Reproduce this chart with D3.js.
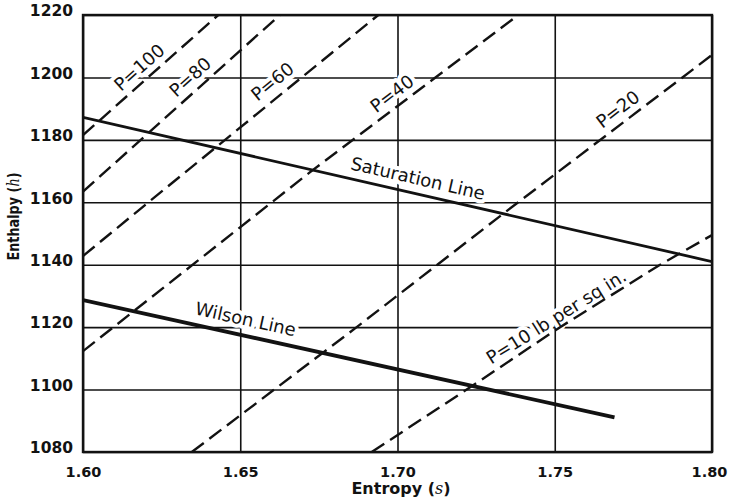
<!DOCTYPE html>
<html>
<head>
<meta charset="utf-8">
<script src="https://cdn.jsdelivr.net/npm/d3@7"></script>
<style>
  html, body { margin: 0; padding: 0; background: #fff; }
  svg { display: block; }
</style>
</head>
<body>
<svg id="chart" width="730" height="500"></svg>
<script>
// Mollier chart detail: enthalpy h (Btu/lb) against entropy s, with
// constant-pressure lines, the saturation line and the Wilson line.

const entropyTicks = [1.60, 1.65, 1.70, 1.75, 1.80];
const enthalpyTicks = [1080, 1100, 1120, 1140, 1160, 1180, 1200, 1220];

// Constant-pressure lines, points as [entropy, enthalpy]
const isobar100 = [[1.600, 1181.5], [1.643, 1220.0]];
const isobar80  = [[1.600, 1163.4], [1.6626, 1220.0]];
const isobar60  = [[1.600, 1142.8], [1.6208, 1160.0], [1.6939, 1220.0]];
const isobar40  = [[1.600, 1112.3], [1.672, 1169.5], [1.7384, 1220.0]];
const isobar20  = [[1.6346, 1080.0], [1.6865, 1119.6], [1.7342, 1156.8], [1.800, 1207.2]];
const isobar10  = [[1.6918, 1080.0], [1.722, 1100.0], [1.7517, 1120.0], [1.7835, 1140.0], [1.800, 1149.5]];

const isobarLabels = ["P=100", "P=80", "P=60", "P=40", "P=20", "P=10 lb per sq in."];

const saturationLine = [[1.600, 1187.2], [1.800, 1141.0]];
const wilsonLine = [[1.600, 1128.7], [1.769, 1091.1]];

const curveLabels = ["Saturation Line", "Wilson Line"];

// ---- layout ----
const plot = { left: 83, right: 712, top: 15, bottom: 452 };
const ink = "#121212";

const svg = d3.select("#chart");
const x = d3.scaleLinear().domain([1.60, 1.80]).range([plot.left, plot.right]);
const y = d3.scaleLinear().domain([1080, 1220]).range([plot.bottom, plot.top]);
const W = plot.right - plot.left, H = plot.bottom - plot.top;

svg.append("defs").append("clipPath").attr("id", "plot-clip")
  .append("rect").attr("x", plot.left).attr("y", plot.top).attr("width", W).attr("height", H);

// grid + y axis
const yAxis = svg.append("g")
  .attr("transform", `translate(${plot.left},0)`)
  .call(d3.axisLeft(y).tickValues(enthalpyTicks).tickSize(-W).tickPadding(10).tickFormat(d3.format("d")));
yAxis.select(".domain").remove();
yAxis.selectAll(".tick line").attr("stroke", ink).attr("stroke-width", 1.6);
yAxis.selectAll(".tick text")
  .attr("fill", ink).attr("font-family", "DejaVu Sans, sans-serif")
  .attr("font-weight", "bold").attr("font-size", 15.5).attr("dy", "0.05em");

// grid + x axis
const xAxis = svg.append("g")
  .attr("transform", `translate(0,${plot.bottom})`)
  .call(d3.axisBottom(x).tickValues(entropyTicks).tickSize(-H).tickPadding(10).tickFormat(d3.format(".2f")));
xAxis.select(".domain").remove();
xAxis.selectAll(".tick line").attr("stroke", ink).attr("stroke-width", 1.6);
xAxis.selectAll(".tick text")
  .attr("fill", ink).attr("font-family", "DejaVu Sans, sans-serif")
  .attr("font-weight", "bold").attr("font-size", 14.5).attr("dy", "1.0em")
  .attr("dx", d => d === 1.80 ? -3 : 0);

// axis titles
const xTitle = svg.append("text")
  .attr("x", 401).attr("y", 494).attr("text-anchor", "middle")
  .attr("fill", ink).attr("font-family", "DejaVu Sans, sans-serif")
  .attr("font-weight", "bold").attr("font-size", 16);
xTitle.append("tspan").text("Entropy (");
xTitle.append("tspan").attr("font-family", "DejaVu Serif, serif").attr("font-style", "italic").attr("font-weight", "normal").text("s");
xTitle.append("tspan").text(")");

const yTitle = svg.append("text")
  .attr("transform", "translate(19,216.5) rotate(-90)")
  .attr("text-anchor", "middle")
  .attr("fill", ink).attr("font-family", "DejaVu Sans, sans-serif")
  .attr("font-weight", "bold").attr("font-size", 16)
  .attr("textLength", 88).attr("lengthAdjust", "spacingAndGlyphs");
yTitle.append("tspan").text("Enthalpy (");
yTitle.append("tspan").attr("font-family", "DejaVu Serif, serif").attr("font-style", "italic").attr("font-weight", "normal").text("h");
yTitle.append("tspan").text(")");

// ---- helpers for labels laid along a line ----
function pointOn(line, s) {
  for (let i = 0; i < line.length - 1; i++) {
    const [s0, h0] = line[i], [s1, h1] = line[i + 1];
    if (s >= s0 && s <= s1 || i === line.length - 2) {
      const t = (s - s0) / (s1 - s0);
      const px0 = x(s0), py0 = y(h0), px1 = x(s1), py1 = y(h1);
      const dx = px1 - px0, dy = py1 - py0, len = Math.hypot(dx, dy);
      return { px: px0 + t * dx, py: py0 + t * dy, ux: dx / len, uy: dy / len };
    }
  }
}

const isobars = [isobar100, isobar80, isobar60, isobar40, isobar20, isobar10];
// label anchor (entropy along the line) and perpendicular offset in px
const isobarLabelLayout = [
  { s: 1.6207, off: 13.5 },
  { s: 1.6370, off: 14.0 },
  { s: 1.6633, off: 15.5 },
  { s: 1.7008, off: 13.5 },
  { s: 1.7727, off: 14.0 },
  { s: 1.7523, off: 11.0 }
];
const curves = [saturationLine, wilsonLine];
const curveLabelLayout = [
  { s: 1.7054, off: 15.5 },
  { s: 1.6506, off: 16.5 }
];

const labelLayer = svg.append("g")
  .attr("font-family", "DejaVu Sans, sans-serif").attr("font-size", 18).attr("fill", ink);

function placeLabel(line, text, lay) {
  const p = pointOn(line, lay.s);
  // normal pointing to the upper side of the line
  let nx = p.uy, ny = -p.ux;
  if (ny > 0) { nx = -nx; ny = -ny; }
  const cx = p.px + nx * lay.off, cy = p.py + ny * lay.off;
  const ang = Math.atan2(p.uy, p.ux) * 180 / Math.PI;
  labelLayer.append("text")
    .attr("transform", `translate(${cx},${cy}) rotate(${ang})`)
    .attr("text-anchor", "middle").attr("dy", "0.36em")
    .attr("stroke", "#fff").attr("stroke-width", 8).attr("stroke-linejoin", "round")
    .attr("paint-order", "stroke")
    .text(text);
}

isobars.forEach((line, i) => placeLabel(line, isobarLabels[i], isobarLabelLayout[i]));
curves.forEach((line, i) => placeLabel(line, curveLabels[i], curveLabelLayout[i]));

// ---- data lines ----
const lineGen = d3.line().x(d => x(d[0])).y(d => y(d[1]));
const marks = svg.append("g").attr("clip-path", "url(#plot-clip)").attr("fill", "none").attr("stroke", ink);

marks.selectAll("path.isobar").data(isobars).join("path")
  .attr("class", "isobar")
  .attr("d", lineGen)
  .attr("stroke-width", 2.4)
  .attr("stroke-dasharray", "15,7");

marks.append("path").datum(saturationLine).attr("d", lineGen).attr("stroke-width", 2.8);
marks.append("path").datum(wilsonLine).attr("d", lineGen).attr("stroke-width", 3.8);

// frame
svg.append("rect")
  .attr("x", plot.left).attr("y", plot.top).attr("width", W).attr("height", H)
  .attr("fill", "none").attr("stroke", ink).attr("stroke-width", 2.4);
</script>
</body>
</html>
